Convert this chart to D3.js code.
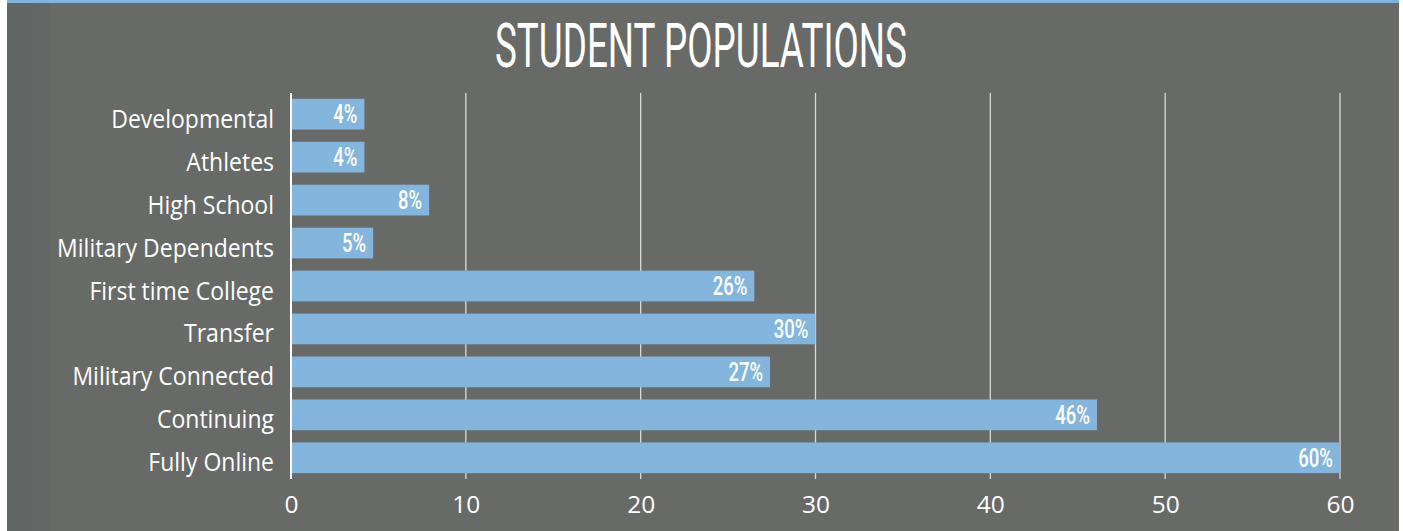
<!DOCTYPE html>
<html>
<head>
<meta charset="utf-8">
<script src="https://cdn.jsdelivr.net/npm/d3@7"></script>
<style>
  html, body { margin: 0; padding: 0; background: #ffffff; }
  svg { display: block; }
</style>
</head>
<body>
<svg id="chart" width="1403" height="531"></svg>
<script>
const categories = ["Developmental", "Athletes", "High School", "Military Dependents",
  "First time College", "Transfer", "Military Connected", "Continuing", "Fully Online"];
const values = [4.2, 4.2, 7.9, 4.7, 26.5, 30.0, 27.4, 46.1, 60.0];
const valueLabels = ["4%", "4%", "8%", "5%", "26%", "30%", "27%", "46%", "60%"];
const tickValues = [0, 10, 20, 30, 40, 50, 60];
const title = "STUDENT POPULATIONS";

const W = 1403, H = 531;
const svg = d3.select("#chart");

// background panel
const defs = svg.append("defs");
const grad = defs.append("linearGradient").attr("id", "bgGrad").attr("x1", "0").attr("x2", "1").attr("y1", "0").attr("y2", "0");
grad.append("stop").attr("offset", "0").attr("stop-color", "#626766");
grad.append("stop").attr("offset", "0.03").attr("stop-color", "#636766");
grad.append("stop").attr("offset", "0.032").attr("stop-color", "#686a68");
grad.append("stop").attr("offset", "1").attr("stop-color", "#686a68");

svg.append("rect").attr("x", 7).attr("y", 0).attr("width", 1392).attr("height", H).attr("fill", "url(#bgGrad)");
svg.append("rect").attr("x", 7).attr("y", 0).attr("width", 1392).attr("height", 3).attr("fill", "#80b3dd");

// title
svg.append("text")
  .attr("x", 701).attr("y", 67)
  .attr("text-anchor", "middle")
  .attr("font-family", "Roboto, 'Open Sans', sans-serif")
  .attr("font-weight", 400)
  .attr("font-size", 62)
  .attr("fill", "#ffffff")
  .attr("textLength", 412)
  .attr("lengthAdjust", "spacingAndGlyphs")
  .text(title);

const x = d3.scaleLinear().domain([0, 60]).range([291, 1340]);
const y = d3.scaleBand().domain(categories).range([93, 479]).paddingInner(0.285).paddingOuter(0.136);

// gridlines
svg.append("g").selectAll("line").data(tickValues.filter(d => d > 0)).join("line")
  .attr("x1", d => x(d)).attr("x2", d => x(d))
  .attr("y1", 93).attr("y2", 479)
  .attr("stroke", "#d9d9d9").attr("stroke-width", 1.3);

// bars
svg.append("g").selectAll("rect").data(categories).join("rect")
  .attr("x", x(0))
  .attr("y", d => y(d))
  .attr("width", (d, i) => x(values[i]) - x(0))
  .attr("height", y.bandwidth())
  .attr("fill", "#84b6dd");

// zero axis line
svg.append("line").attr("x1", x(0)).attr("x2", x(0)).attr("y1", 93).attr("y2", 479)
  .attr("stroke", "#ffffff").attr("stroke-width", 2);

// value labels
svg.append("g").selectAll("g").data(categories).join("g")
  .attr("transform", (d, i) => `translate(${x(values[i]) - 7},${y(d) + y.bandwidth() / 2 + 9}) scale(0.74,1)`)
  .append("text")
  .attr("text-anchor", "end")
  .attr("font-family", "Roboto, sans-serif")
  .attr("font-weight", 500)
  .attr("font-size", 25)
  .attr("fill", "#ffffff")
  .text((d, i) => valueLabels[i]);

// category labels
svg.append("g").selectAll("g").data(categories).join("g")
  .attr("transform", d => `translate(274,${y(d) + y.bandwidth() / 2 + 13.5}) scale(0.92,1)`)
  .append("text")
  .attr("text-anchor", "end")
  .attr("font-family", "'Open Sans', sans-serif")
  .attr("font-size", 25)
  .attr("fill", "#ffffff")
  .text(d => d);

// x axis tick labels
const xAxis = d3.axisBottom(x).tickValues(tickValues).tickSize(0).tickPadding(0);
const ax = svg.append("g").attr("transform", "translate(0,513)").call(xAxis);
ax.select(".domain").remove();
ax.selectAll("text")
  .attr("dy", 0).attr("y", 0)
  .attr("font-family", "'Open Sans', sans-serif")
  .attr("font-size", 24.5)
  .attr("fill", "#ffffff");
</script>
</body>
</html>
